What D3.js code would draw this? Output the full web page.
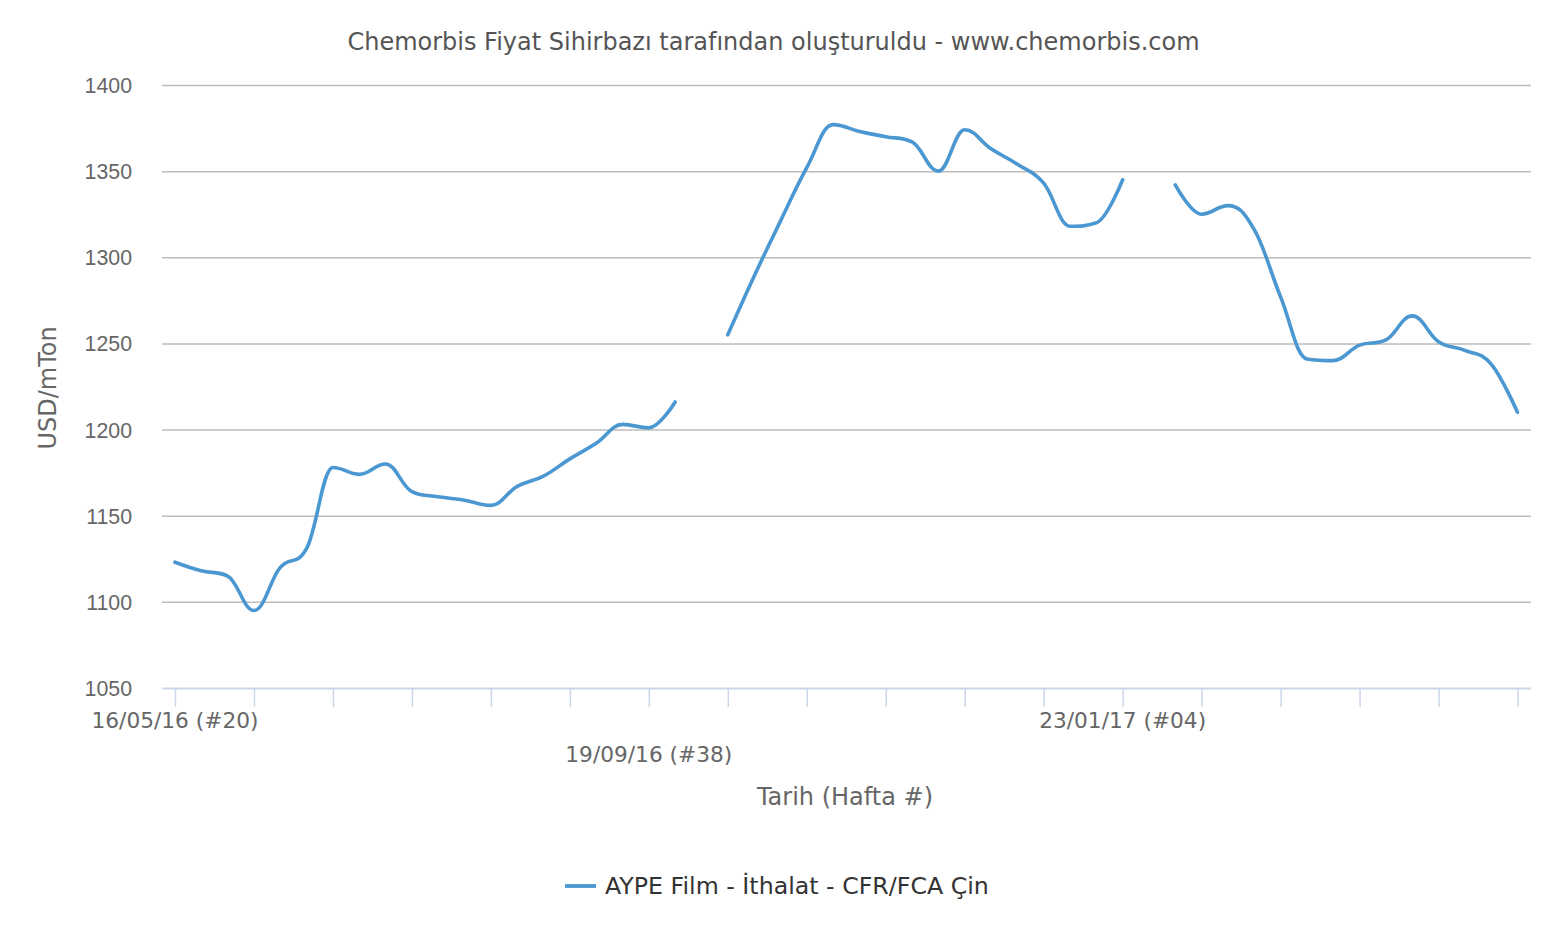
<!DOCTYPE html>
<html>
<head>
<meta charset="utf-8">
<script src="https://cdn.jsdelivr.net/npm/d3@7/dist/d3.min.js"></script>
<style>
  html, body { margin: 0; padding: 0; background: #fff; }
  svg { display: block; font-family: "DejaVu Sans", sans-serif; }
</style>
</head>
<body>
<svg id="chart" width="1552" height="930"></svg>
<script>
// ---- data ----
const titleText = "Chemorbis Fiyat Sihirbazı tarafından oluşturuldu - www.chemorbis.com";
const seriesName = "AYPE Film - İthalat - CFR/FCA Çin";
const yAxisTitle = "USD/mTon";
const xAxisTitle = "Tarih (Hafta #)";
// week index 0 = 16/05/16 (#20), weekly
const weekIndex = d3.range(0, 52);
const prices = [
  1123, 1118, 1115, 1095, 1120, 1131, 1178, 1174, 1180, 1164,
  1161, 1159, 1156, 1167, 1173, 1183, 1192, 1203, 1201, 1216,
  null, 1255, 1289, 1321, 1352, 1377, 1373, 1370, 1367, 1350,
  1374, 1363, 1354, 1343, 1318, 1320, 1345, null, 1342, 1325,
  1330, 1316, 1277, 1241, 1240, 1249, 1252, 1266, 1251, 1246,
  1238, 1210
];
const yTicks = [1050, 1100, 1150, 1200, 1250, 1300, 1350, 1400];
const xTickWeeks = d3.range(0, 52, 3);
const xLabelWeeks = [0, 18, 36];
const xLabelTexts = ["16/05/16 (#20)", "19/09/16 (#38)", "23/01/17 (#04)"];

// ---- layout ----
const svg = d3.select("#chart");
const plotLeft = 162, plotRight = 1531, plotTop = 85, plotBottom = 688;
const x = d3.scaleLinear().domain([0, 51]).range([175, 1517.5]);
const y = d3.scaleLinear().domain([1050, 1400]).range([plotBottom, plotTop]);
const lineColor = "#4b97d1";

// Highcharts-like spline curve
function HCSpline(context) { this._context = context; }
HCSpline.prototype = {
  areaStart() { this._line = 0; },
  areaEnd() { this._line = NaN; },
  lineStart() { this._pts = []; },
  point(px, py) { this._pts.push([+px, +py]); },
  lineEnd() {
    const p = this._pts, n = p.length, ctx = this._context;
    if (!n) return;
    const sm = 1.5, den = sm + 1;
    const rc = p.map(q => [q[0], q[1]]);
    const lc = p.map(q => [q[0], q[1]]);
    for (let i = 1; i < n - 1; i++) {
      const [px, py] = p[i], [lx, ly] = p[i - 1], [nx, ny] = p[i + 1];
      let lcx = (sm * px + lx) / den, lcy = (sm * py + ly) / den;
      let rcx = (sm * px + nx) / den, rcy = (sm * py + ny) / den;
      let corr = 0;
      if (rcx !== lcx) corr = ((rcy - lcy) * (rcx - px)) / (rcx - lcx) + py - rcy;
      lcy += corr; rcy += corr;
      if (lcy > ly && lcy > py) { lcy = Math.max(ly, py); rcy = 2 * py - lcy; }
      else if (lcy < ly && lcy < py) { lcy = Math.min(ly, py); rcy = 2 * py - lcy; }
      if (rcy > ny && rcy > py) { rcy = Math.max(ny, py); lcy = 2 * py - rcy; }
      else if (rcy < ny && rcy < py) { rcy = Math.min(ny, py); lcy = 2 * py - rcy; }
      lc[i] = [lcx, lcy]; rc[i] = [rcx, rcy];
    }
    ctx.moveTo(p[0][0], p[0][1]);
    for (let i = 1; i < n; i++) {
      ctx.bezierCurveTo(rc[i - 1][0], rc[i - 1][1], lc[i][0], lc[i][1], p[i][0], p[i][1]);
    }
  }
};
const curveHC = ctx => new HCSpline(ctx);

// title
svg.append("text")
  .attr("x", 773.5).attr("y", 50)
  .attr("text-anchor", "middle")
  .attr("fill", "#555555")
  .style("font-size", "24px")
  .text(titleText);

// grid lines + y labels
const yAxis = d3.axisLeft(y).tickValues(yTicks).tickFormat(d3.format("d"))
  .tickSize(-(plotRight - plotLeft)).tickPadding(30);
const gy = svg.append("g").attr("transform", `translate(${plotLeft},0)`).call(yAxis);
gy.select(".domain").remove();
gy.selectAll(".tick line").attr("stroke", "#bdbdbd").attr("stroke-width", 1.5);
gy.selectAll(".tick text").attr("fill", "#666666").style("font-size", "21.3px").attr("dy", "0.35em");
gy.selectAll(".tick").filter(d => d === 1050).select("line").remove();

// x axis
const xAxis = d3.axisBottom(x).tickValues(xTickWeeks).tickSize(19).tickFormat("");
const gx = svg.append("g").attr("transform", `translate(0,${plotBottom})`).call(xAxis);
gx.select(".domain").attr("d", `M${plotLeft},0.5H${plotRight}`).attr("stroke", "#ccd6eb").attr("stroke-width", 2);
gx.selectAll(".tick line").attr("stroke", "#ccd6eb").attr("stroke-width", 1.5);

// x labels (staggered)
svg.append("g").selectAll("text")
  .data(xLabelWeeks)
  .join("text")
  .attr("x", d => x(d))
  .attr("y", (d, i) => i % 2 === 0 ? 728 : 762)
  .attr("text-anchor", "middle")
  .attr("fill", "#666666")
  .style("font-size", "21.7px")
  .text((d, i) => xLabelTexts[i]);

// axis titles
svg.append("text")
  .attr("x", 845).attr("y", 805)
  .attr("text-anchor", "middle")
  .attr("fill", "#666666")
  .style("font-size", "24px")
  .text(xAxisTitle);

svg.append("text")
  .attr("transform", "translate(56,388) rotate(-90)")
  .attr("text-anchor", "middle")
  .attr("fill", "#666666")
  .style("font-size", "24px")
  .text(yAxisTitle);

// series line
const pts = weekIndex.map(i => ({ w: i, v: prices[i] }));
const line = d3.line()
  .defined(d => d.v !== null)
  .x(d => x(d.w))
  .y(d => y(d.v))
  .curve(curveHC);
svg.append("path")
  .datum(pts)
  .attr("d", line)
  .attr("fill", "none")
  .attr("stroke", lineColor)
  .attr("stroke-width", 3.6)
  .attr("stroke-linejoin", "round")
  .attr("stroke-linecap", "round");

// legend
const lg = svg.append("g");
lg.append("line")
  .attr("x1", 565).attr("x2", 596).attr("y1", 886).attr("y2", 886)
  .attr("stroke", lineColor).attr("stroke-width", 3.8);
lg.append("text")
  .attr("x", 605).attr("y", 894)
  .attr("fill", "#333333")
  .style("font-size", "23.7px")
  .text(seriesName);
</script>
</body>
</html>
